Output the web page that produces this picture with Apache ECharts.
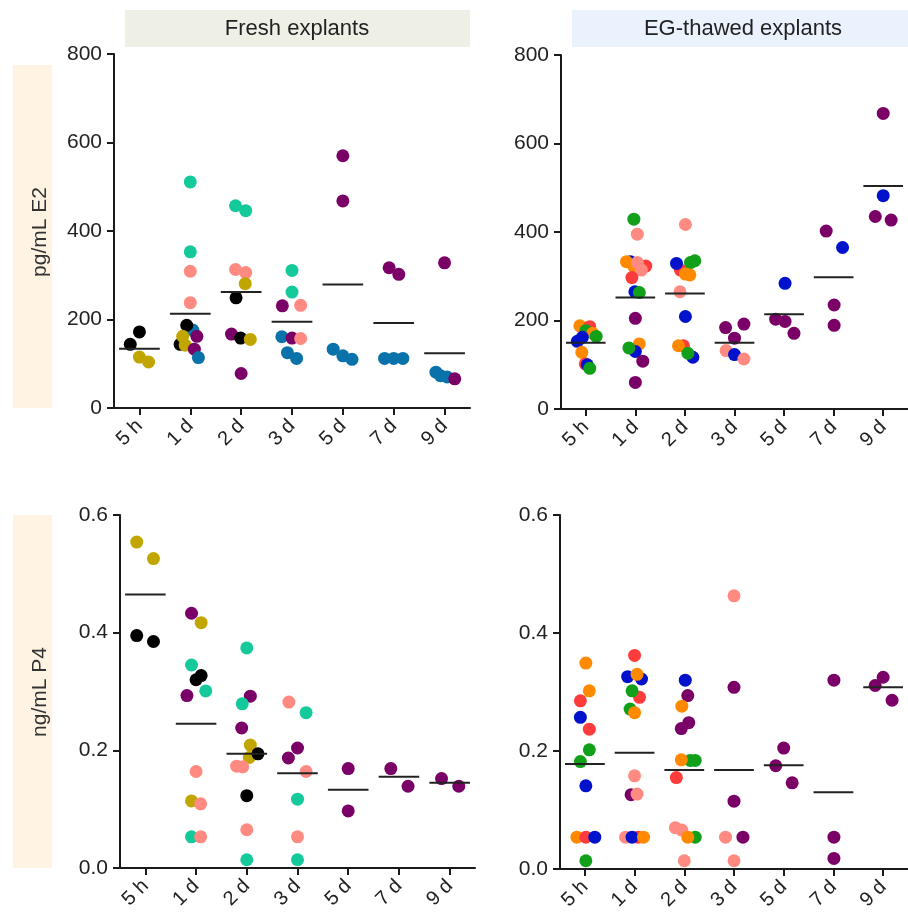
<!DOCTYPE html>
<html>
<head>
<meta charset="utf-8">
<script src="https://cdn.jsdelivr.net/npm/echarts@6/dist/echarts.min.js"></script>
<style>
html,body{margin:0;padding:0;background:#fff;}
#chart{width:908px;height:918px;}
</style>
</head>
<body>
<div id="chart"></div>
<script>
// ---------- DATA ----------
const categories = ['5 h','1 d','2 d','3 d','5 d','7 d','9 d'];
const panelTitles = ['Fresh explants','EG-thawed explants'];
const yNames = ['pg/mL E2','ng/mL P4'];
const e2Ticks = [0,200,400,600,800];
const p4Ticks = [0,0.2,0.4,0.6];

// [categoryIndex, jitter (category units), value, donor group]
const freshE2 = [
 [0,0,172,'k'],[0,-0.18,144,'k'],[0,0,115,'o'],[0,0.18,104,'o'],
 [1,0,511,'t'],[1,0,353,'t'],[1,0,309,'s'],[1,0,238,'s'],[1,0.05,176,'b'],[1,-0.07,187,'k'],[1,-0.2,144,'k'],[1,-0.15,162,'o'],[1,-0.1,142,'o'],[1,0.13,162,'p'],[1,0.08,133,'p'],[1,0.16,114,'b'],
 [2,-0.11,457,'t'],[2,0.09,446,'t'],[2,-0.11,313,'s'],[2,0.09,306,'s'],[2,0.08,281,'o'],[2,-0.1,249,'k'],[2,-0.19,167,'p'],[2,-0.01,158,'k'],[2,0.18,155,'o'],[2,0,78,'p'],
 [3,0,311,'t'],[3,0,262,'t'],[3,-0.19,231,'p'],[3,0.17,232,'s'],[3,-0.2,161,'b'],[3,0,158,'p'],[3,0.17,157,'s'],[3,-0.09,125,'b'],[3,0.09,112,'b'],
 [4,0,570,'p'],[4,0,468,'p'],[4,-0.19,133,'b'],[4,0,118,'b'],[4,0.18,110,'b'],
 [5,-0.09,317,'p'],[5,0.1,302,'p'],[5,-0.18,112,'b'],[5,0,112,'b'],[5,0.18,112,'b'],
 [6,0,328,'p'],[6,-0.17,81,'b'],[6,-0.08,73,'b'],[6,0.05,70,'b'],[6,0.2,66,'p']
];
const freshE2Mean = [134,213,262,195,279,192,124];

const thawedE2 = [
 [0,-0.12,188,'O'],[0,0.08,186,'R'],[0,0,177,'G'],[0,0.14,171,'O'],[0,0.21,164,'G'],[0,-0.07,162,'B'],[0,-0.17,153,'B'],[0,-0.08,128,'O'],[0,-0.01,102,'R'],[0,0.03,100,'B'],[0,0.08,92,'G'],
 [1,-0.03,429,'G'],[1,0.04,395,'s'],[1,-0.1,333,'B'],[1,-0.18,333,'O'],[1,0.21,323,'R'],[1,-0.03,322,'O'],[1,0.04,331,'s'],[1,0.12,314,'s'],[1,-0.07,297,'R'],[1,-0.01,265,'B'],[1,0.08,263,'G'],[1,0,205,'p'],[1,0.08,147,'O'],[1,0,130,'B'],[1,-0.13,138,'G'],[1,0.15,108,'p'],[1,0,60,'p'],
 [2,0.01,417,'s'],[2,-0.09,314,'R'],[2,-0.17,329,'B'],[2,0.11,331,'G'],[2,0.2,335,'G'],[2,0.01,305,'O'],[2,0.1,303,'O'],[2,-0.1,265,'s'],[2,0.01,209,'B'],[2,-0.03,143,'R'],[2,-0.13,143,'O'],[2,0.16,117,'B'],[2,0.06,126,'G'],
 [3,-0.18,184,'p'],[3,0.19,192,'p'],[3,0,160,'p'],[3,-0.17,132,'s'],[3,0,123,'B'],[3,0.19,113,'s'],
 [4,0.02,284,'B'],[4,-0.17,203,'p'],[4,0.02,198,'p'],[4,0.2,171,'p'],
 [5,-0.15,402,'p'],[5,0.18,365,'B'],[5,0.01,235,'p'],[5,0.01,189,'p'],
 [6,0,668,'p'],[6,0,482,'B'],[6,-0.16,435,'p'],[6,0.16,427,'p']
];
const thawedE2Mean = [150,252,261,150,214,298,504];

const freshP4 = [
 [0,-0.17,0.554,'o'],[0,0.16,0.526,'o'],[0,-0.17,0.395,'k'],[0,0.16,0.385,'k'],
 [1,-0.09,0.433,'p'],[1,0.1,0.417,'o'],[1,-0.09,0.345,'t'],[1,0,0.320,'k'],[1,0.1,0.327,'k'],[1,0.19,0.301,'t'],[1,-0.18,0.293,'p'],[1,0,0.164,'s'],[1,-0.09,0.114,'o'],[1,0.09,0.109,'s'],[1,-0.09,0.053,'t'],[1,0.09,0.053,'s'],
 [2,0,0.374,'t'],[2,0.07,0.292,'p'],[2,-0.09,0.279,'t'],[2,-0.1,0.238,'p'],[2,0.07,0.209,'o'],[2,0.05,0.188,'o'],[2,0.22,0.194,'k'],[2,-0.2,0.173,'s'],[2,-0.08,0.172,'s'],[2,0,0.123,'k'],[2,0,0.065,'s'],[2,0,0.014,'t'],
 [3,-0.17,0.282,'s'],[3,0.17,0.264,'t'],[3,0,0.204,'p'],[3,-0.18,0.187,'p'],[3,0.17,0.164,'s'],[3,0,0.117,'t'],[3,0,0.053,'s'],[3,0,0.014,'t'],
 [4,0,0.169,'p'],[4,0,0.097,'p'],
 [5,-0.16,0.169,'p'],[5,0.18,0.139,'p'],
 [6,-0.16,0.152,'p'],[6,0.18,0.139,'p']
];
const freshP4Mean = [0.465,0.245,0.194,0.161,0.133,0.155,0.145];

const thawedP4 = [
 [0,0.02,0.349,'O'],[0,0.09,0.302,'O'],[0,-0.09,0.285,'R'],[0,-0.09,0.257,'B'],[0,0.09,0.237,'R'],[0,0.09,0.202,'G'],[0,-0.09,0.182,'G'],[0,0.02,0.141,'B'],[0,-0.16,0.054,'O'],[0,0.02,0.054,'R'],[0,0.2,0.054,'B'],[0,0.02,0.014,'G'],
 [1,0,0.362,'R'],[1,-0.14,0.326,'B'],[1,0.14,0.322,'B'],[1,0.05,0.330,'O'],[1,0.1,0.291,'R'],[1,-0.05,0.302,'G'],[1,-0.09,0.271,'G'],[1,0,0.265,'O'],[1,0,0.158,'s'],[1,-0.07,0.126,'p'],[1,0.05,0.127,'s'],[1,-0.18,0.054,'s'],[1,0.07,0.054,'R'],[1,-0.05,0.054,'B'],[1,0.18,0.054,'O'],
 [2,0.02,0.320,'B'],[2,0.07,0.294,'p'],[2,-0.05,0.276,'O'],[2,-0.06,0.238,'p'],[2,0.09,0.248,'p'],[2,0.12,0.184,'G'],[2,0.22,0.184,'G'],[2,-0.06,0.185,'O'],[2,-0.16,0.155,'R'],[2,-0.18,0.070,'s'],[2,-0.05,0.066,'s'],[2,0.22,0.054,'G'],[2,0.07,0.054,'O'],[2,0,0.014,'s'],
 [3,0,0.463,'s'],[3,0,0.308,'p'],[3,0,0.115,'p'],[3,-0.17,0.054,'s'],[3,0.18,0.054,'p'],[3,0,0.014,'s'],
 [4,0,0.205,'p'],[4,-0.16,0.175,'p'],[4,0.17,0.146,'p'],
 [5,0.01,0.320,'p'],[5,0.01,0.054,'p'],[5,0.01,0.018,'p'],
 [6,-0.16,0.311,'p'],[6,0,0.325,'p'],[6,0.18,0.286,'p']
];
const thawedP4Mean = [0.178,0.197,0.168,0.168,0.176,0.130,0.308];

// ---------- STYLE ----------
const COLORS = {k:'#000000', o:'#c2a600', t:'#14c99a', s:'#ff8a82', p:'#7a0068', b:'#0a72aa',
                B:'#0012cc', G:'#12a01a', O:'#ff8a00', R:'#ff3c3c'};
const FONT = 'Liberation Sans, Arial, Helvetica, sans-serif';
const AX = '#1a1a1a';

const panels = [
  {data:freshE2,  means:freshE2Mean,  ticks:e2Ticks, grid:{left:114,top:54,width:356,height:354}, fmt:v=>String(v)},
  {data:thawedE2, means:thawedE2Mean, ticks:e2Ticks, grid:{left:561,top:55,width:356,height:354}, fmt:v=>String(v)},
  {data:freshP4,  means:freshP4Mean,  ticks:p4Ticks, grid:{left:120,top:515,width:355,height:353}, fmt:v=>v.toFixed(1)},
  {data:thawedP4, means:thawedP4Mean, ticks:p4Ticks, grid:{left:560,top:515,width:355,height:354}, fmt:v=>v.toFixed(1)}
];

const grids=[], xAxes=[], yAxes=[], series=[];
panels.forEach((p,i)=>{
  grids.push(Object.assign({containLabel:false}, p.grid));
  const tmax = p.ticks[p.ticks.length-1];
  const tint = p.ticks[1]-p.ticks[0];
  xAxes.push({
    type:'category', gridIndex:i, data:categories, boundaryGap:true, position:'bottom',
    axisLine:{show:true, onZero:false, lineStyle:{color:AX, width:2}},
    axisTick:{show:true, alignWithLabel:true, length:7, lineStyle:{color:AX, width:2}},
    axisLabel:{rotate:45, fontSize:20, color:'#222', fontFamily:FONT, margin:15, interval:0},
    splitLine:{show:false}
  });
  xAxes.push({
    type:'value', gridIndex:i, min:-0.5, max:6.5, show:false
  });
  yAxes.push({
    type:'value', gridIndex:i, min:0, max:tmax, interval:tint, position:'left',
    axisLine:{show:true, onZero:false, lineStyle:{color:AX, width:2}},
    axisTick:{show:true, length:7, lineStyle:{color:AX, width:2}},
    axisLabel:{fontSize:21, color:'#222', fontFamily:FONT, margin:12, formatter:p.fmt},
    splitLine:{show:false}
  });
  series.push({
    type:'scatter', xAxisIndex:2*i+1, yAxisIndex:i, symbol:'circle', symbolSize:13,
    silent:true, animation:false,
    data:p.data.map(d=>({value:[d[0]+d[1], d[2]], itemStyle:{color:COLORS[d[3]], opacity:1}})),
    z:2
  });
  series.push({
    type:'custom', xAxisIndex:2*i+1, yAxisIndex:i, silent:true, animation:false, z:3,
    data:p.means.map((m,k)=>[k,m]),
    renderItem:function(params, api){
      const x = api.value(0), y = api.value(1);
      const a = api.coord([x-0.4, y]), b = api.coord([x+0.4, y]);
      return {type:'line', shape:{x1:a[0], y1:a[1], x2:b[0], y2:b[1]},
              style:{stroke:'#222', lineWidth:2}};
    }
  });
});

const graphic = [
  {type:'rect', shape:{x:125,y:10,width:345,height:37}, style:{fill:'#eef0e6'}, z:-1},
  {type:'rect', shape:{x:572,y:10,width:345,height:37}, style:{fill:'#eaf3fd'}, z:-1},
  {type:'text', x:297, y:29, style:{text:panelTitles[0], font:'22px '+FONT, fill:'#222', textAlign:'center', textVerticalAlign:'middle'}},
  {type:'text', x:743, y:29, style:{text:panelTitles[1], font:'22px '+FONT, fill:'#222', textAlign:'center', textVerticalAlign:'middle'}},
  {type:'rect', shape:{x:13,y:65,width:39,height:343}, style:{fill:'#fff4e3'}, z:-1},
  {type:'rect', shape:{x:13,y:515,width:39,height:353}, style:{fill:'#fff4e3'}, z:-1},
  {type:'text', x:40, y:232, rotation:Math.PI/2, style:{text:yNames[0], font:'21px '+FONT, fill:'#333', textAlign:'center', textVerticalAlign:'middle'}},
  {type:'text', x:40, y:692, rotation:Math.PI/2, style:{text:yNames[1], font:'21px '+FONT, fill:'#333', textAlign:'center', textVerticalAlign:'middle'}}
];

const chart = echarts.init(document.getElementById('chart'), null, {renderer:'canvas'});
chart.setOption({
  backgroundColor:'#ffffff',
  animation:false,
  grid:grids, xAxis:xAxes, yAxis:yAxes, series:series, graphic:graphic
});
</script>
</body>
</html>
